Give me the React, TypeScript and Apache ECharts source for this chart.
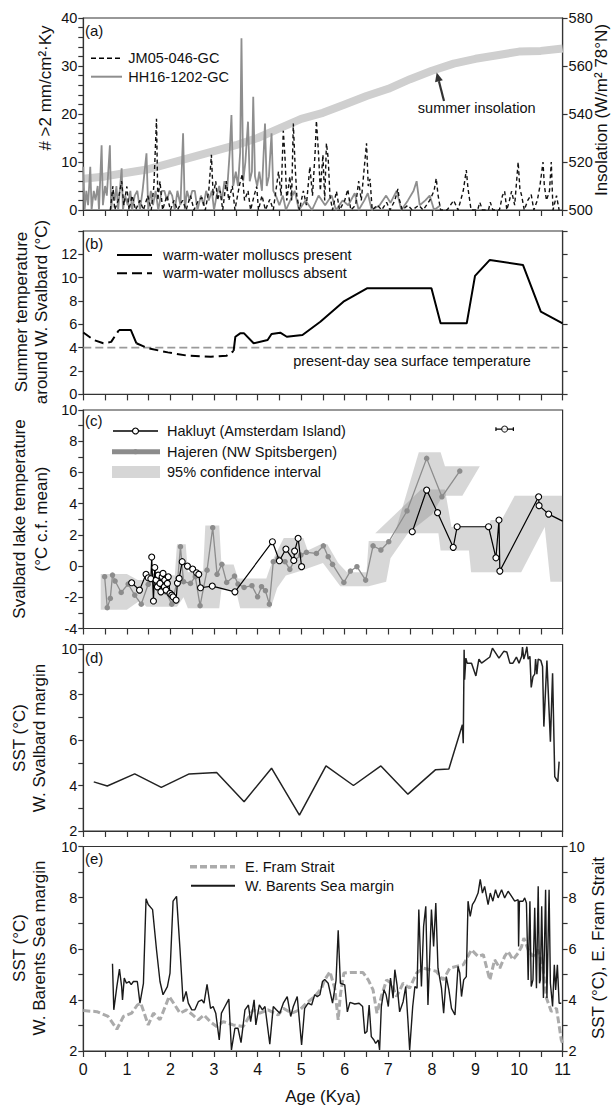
import React, { useEffect, useRef } from 'react';
import * as echarts from 'echarts';

const FONT = "'Liberation Sans', Arial, Helvetica, sans-serif";

// ---------- Panel (a) ----------
const insolationAge = [0, 0.5, 1, 1.5, 2, 2.5, 3, 3.5, 4, 4.5, 5, 5.5, 6, 6.5, 7, 7.5, 8, 8.5, 9, 9.5, 10, 10.5, 11];
const insolationVal = [513, 514, 515.5, 517, 519.5, 522, 524.5, 527, 530, 534, 538, 540.5, 544, 547.5, 550.5, 554.5, 558, 561, 563, 564.5, 566, 566.3, 567.3];

const hh16: number[][] = [
  [0, 9], [0.03, 0], [0.07, 4], [0.11, 1], [0.16, 9], [0.19, 0], [0.24, 4], [0.28, 2], [0.33, 5], [0.36, 0],
  [0.42, 13.5], [0.45, 1], [0.5, 5], [0.54, 3], [0.61, 13.5], [0.64, 0], [0.68, 4], [0.72, 2], [0.76, 5], [0.8, 0],
  [0.88, 8.7], [0.91, 0], [0.96, 3], [1.02, 1], [1.08, 4], [1.12, 0], [1.18, 3], [1.24, 4], [1.3, 0], [1.36, 4],
  [1.45, 11.8], [1.49, 0], [1.55, 4], [1.6, 1], [1.66, 4], [1.72, 0], [1.8, 4], [1.86, 4], [1.92, 2], [1.98, 4],
  [2.04, 3], [2.1, 0], [2.16, 4], [2.23, 1], [2.29, 16], [2.33, 0], [2.38, 4], [2.44, 2], [2.5, 4], [2.56, 4],
  [2.62, 0], [2.7, 3], [2.76, 1], [2.82, 4], [2.88, 2], [2.95, 4], [3.0, 0], [3.06, 3], [3.12, 5], [3.18, 2],
  [3.24, 6], [3.3, 4], [3.36, 12], [3.4, 19.8], [3.44, 5], [3.5, 8], [3.55, 5], [3.6, 12], [3.63, 35.8], [3.67, 6],
  [3.72, 10], [3.78, 18.4], [3.82, 6], [3.87, 8], [3.9, 23.6], [3.94, 7], [3.99, 5], [4.04, 8], [4.1, 4], [4.17, 18],
  [4.21, 5], [4.26, 7], [4.32, 16], [4.36, 4], [4.42, 3], [4.5, 1], [4.58, 3], [4.65, 0], [4.75, 2], [4.85, 4],
  [4.95, 0], [5.1, 2], [5.25, 0], [5.4, 3], [5.55, 1], [5.7, 3], [5.8, 0], [5.95, 2], [6.08, 1], [6.23, 3.5],
  [6.32, 0], [6.45, 2], [6.53, 3.5], [6.62, 0], [6.8, 1], [6.95, 3], [7.05, 1.5], [7.19, 4], [7.3, 0], [7.45, 2],
  [7.58, 4], [7.65, 6], [7.72, 1], [7.85, 2], [7.95, 3], [8.05, 0], [8.2, 1]
];

const jm05: number[][] = [
  [0.62, 0], [0.68, 5], [0.72, 0], [0.8, 2], [0.88, 6], [0.93, 1], [1.0, 4.9], [1.05, 0], [1.12, 3], [1.2, 0],
  [1.3, 2], [1.38, 0], [1.48, 3], [1.56, 0], [1.62, 5], [1.68, 19], [1.71, 2], [1.76, 6], [1.82, 0], [1.92, 3],
  [2.0, 0], [2.08, 2], [2.16, 0], [2.28, 2], [2.36, 0], [2.46, 3], [2.54, 0], [2.64, 2], [2.72, 2.6], [2.8, 0],
  [2.88, 4], [2.94, 11.5], [2.98, 3], [3.04, 6], [3.08, 2], [3.14, 4], [3.2, 0], [3.28, 6], [3.34, 2], [3.42, 5],
  [3.48, 0], [3.54, 3], [3.59, 5.4], [3.65, 7.5], [3.7, 2], [3.78, 4], [3.84, 0], [3.92, 3], [3.98, 4.9], [4.02, 0],
  [4.1, 3], [4.18, 0], [4.28, 2.2], [4.36, 0], [4.48, 8], [4.54, 3], [4.59, 16.5], [4.63, 10.8], [4.67, 2], [4.74, 7],
  [4.78, 2], [4.82, 18], [4.86, 9.4], [4.9, 3], [4.96, 0], [5.05, 4], [5.12, 1], [5.2, 9], [5.26, 3], [5.32, 12],
  [5.35, 18.6], [5.4, 11.5], [5.44, 4], [5.5, 11.5], [5.54, 2], [5.58, 13.9], [5.62, 10.8], [5.66, 3], [5.72, 0], [5.81, 3.9],
  [5.88, 0], [6.0, 2], [6.07, 4.3], [6.14, 0], [6.25, 1], [6.32, 6], [6.38, 2], [6.45, 9], [6.5, 13.9], [6.54, 5],
  [6.58, 6.5], [6.63, 0], [6.75, 1], [6.85, 0], [6.96, 1.6], [7.04, 0], [7.15, 2], [7.22, 4.4], [7.25, 2.3], [7.32, 0],
  [7.45, 1], [7.55, 0], [7.7, 1], [7.8, 0], [7.95, 2], [8.05, 4], [8.1, 6.6], [8.14, 3.2], [8.2, 0], [8.35, 0],
  [8.5, 2], [8.6, 0], [8.72, 4], [8.79, 8.3], [8.83, 4.4], [8.9, 0], [9.05, 0], [9.1, 1.6], [9.16, 0], [9.3, 0],
  [9.34, 1.6], [9.4, 0], [9.55, 0], [9.62, 3], [9.67, 3.9], [9.72, 0], [9.78, 2], [9.83, 3.9], [9.9, 1], [9.98, 10],
  [10.02, 4.4], [10.06, 3], [10.12, 0], [10.2, 2], [10.28, 3.2], [10.34, 0], [10.42, 2], [10.48, 5], [10.55, 10], [10.58, 5.2],
  [10.63, 2], [10.7, 4], [10.74, 10], [10.78, 0], [10.86, 3], [10.92, 0]
];

// ---------- Panel (b) ----------
const bAbsent1: number[][] = [[0, 5.3], [0.24, 4.66], [0.46, 4.38], [0.64, 4.5], [0.82, 5.52]];
const bPresent1: number[][] = [[0.82, 5.52], [1.09, 5.52], [1.22, 4.38]];
const bAbsent2: number[][] = [[1.22, 4.38], [1.49, 3.95], [1.94, 3.6], [2.39, 3.32], [2.93, 3.23], [3.29, 3.32], [3.45, 3.72]];
const bPresent2: number[][] = [
  [3.45, 3.72], [3.49, 4.94], [3.6, 5.23], [3.69, 5.23], [3.91, 4.38], [4.23, 4.66], [4.32, 5.17], [4.52, 5.29],
  [4.67, 4.94], [5.03, 5.09], [5.44, 6.23], [5.97, 7.94], [6.51, 9.09], [7.99, 9.09], [8.2, 6.09], [8.8, 6.09],
  [8.99, 10.15], [9.33, 11.52], [10.09, 11.09], [10.5, 7.09], [11, 6.09]
];
const presentDaySST = 4;

// ---------- Panel (c) ----------
const hakluyt1: number[][] = [
  [1.11, -1.07], [1.29, -1.54], [1.44, -0.53], [1.49, -0.75], [1.55, -0.81], [1.57, 0.58], [1.61, -2.24], [1.64, -0.09],
  [1.67, -0.9], [1.7, -1.33], [1.72, -0.58], [1.76, -1.11], [1.78, -1.65], [1.81, -0.69], [1.83, -0.47], [1.86, -1.33],
  [1.87, -0.9], [1.9, -1.54], [1.93, -1.11], [1.95, -0.69], [1.99, -1.75], [2.03, -1.86], [2.06, -1.97], [2.13, -2.18],
  [2.16, -1.09], [2.2, -0.79], [2.27, 0.28], [2.39, 0.0], [2.51, -0.19], [2.6, -0.43], [2.65, -0.53], [2.69, -1.39],
  [2.96, -1.28], [3.48, -1.65], [4.34, 1.56], [4.5, 0.34], [4.65, 1.09], [4.83, 0.36], [4.85, 0.96], [4.93, 1.78], [5.01, -0.04]
];
const hakluyt2: number[][] = [
  [7.55, 2.2], [7.88, 4.87], [8.13, 3.42], [8.49, 1.2], [8.58, 2.52], [9.3, 2.52], [9.47, 0.53], [9.54, 2.95],
  [9.56, -0.32], [10.45, 4.44], [10.46, 3.87], [10.68, 3.33], [11.0, 2.88]
];
const hajeren: number[][] = [
  [0.49, -0.68], [0.55, -2.67], [0.62, -2.07], [0.67, -0.58], [0.73, -0.96], [0.87, -1.69], [1.03, -1.15], [1.18, -1.86],
  [1.33, -2.44], [1.49, -1.17], [1.66, -0.58], [1.79, -1.22], [1.9, -1.67], [2.03, -2.44], [2.17, -0.79], [2.23, 1.24],
  [2.3, -1.0], [2.46, -1.11], [2.57, -0.68], [2.68, -2.54], [2.84, -0.26], [2.97, 2.46], [3.07, -0.53], [3.18, 0.11],
  [3.29, -1.05], [3.47, -0.64], [3.55, -1.15], [3.69, -1.37], [3.87, -1.26], [4.0, -1.97], [4.09, -1.32], [4.18, -1.58],
  [4.27, -2.44], [4.36, 0.28], [4.47, 0.49], [4.63, 0.28], [4.74, -0.21], [4.85, 0.38], [4.99, 0.7], [5.12, 0.88],
  [5.35, 0.81], [5.51, 1.3], [5.62, 0.6], [5.72, 0.11], [5.98, -1.05], [6.13, -0.32], [6.28, -0.04], [6.48, -0.9],
  [6.65, 1.3], [6.83, 1.03], [7.01, 1.56], [7.43, 3.53], [7.88, 6.9], [8.23, 4.44], [8.64, 6.09]
];
const hajerenCIUpper: number[][] = [
  [0.4, -0.5], [1.0, -0.5], [1.25, -0.9], [1.5, -0.9], [1.6, -0.5], [2.1, -0.6], [2.15, 1.4], [2.35, 1.4], [2.4, -0.4],
  [2.75, -0.3], [2.8, 2.6], [3.12, 2.6], [3.17, 0.1], [3.45, 0.1], [3.55, -0.8], [4.2, -0.8], [4.35, 0.4], [4.6, 1.8],
  [5.05, 1.8], [5.15, 1.0], [5.45, 1.4], [5.6, 1.4], [5.85, 0.2], [6.05, -0.4], [6.5, -0.4], [6.55, 1.6], [7.05, 1.6],
  [7.15, 2.1], [7.7, 7.3], [8.2, 7.3], [8.3, 6.4], [9.1, 6.4]
];
const hajerenCILower: number[][] = [
  [0.4, -2.8], [1.0, -2.8], [1.3, -2.2], [1.45, -2.6], [2.15, -2.6], [2.3, -2.0], [2.4, -2.7], [3.12, -2.7], [3.17, -1.5],
  [3.5, -1.5], [3.6, -2.7], [4.3, -2.7], [4.45, -1.4], [4.65, -0.6], [5.0, -0.3], [5.5, 0.2], [5.9, -1.3], [6.55, -1.3],
  [6.95, -1.0], [7.05, 0.5], [7.45, 2.1], [8.0, 3.3], [8.25, 4.5], [8.7, 4.5], [9.1, 6.4]
];
const hakluytCIUpper: number[][] = [
  [6.7, 2.1], [7.75, 4.9], [8.3, 4.9], [8.45, 2.5], [9.3, 2.5], [9.35, 2.95], [9.6, 2.95], [9.9, 4.5], [11, 4.5]
];
const hakluytCILower: number[][] = [
  [6.7, 2.1], [8.15, 2.1], [8.2, 1.0], [8.85, 1.0], [8.9, -0.4], [10.05, -0.4], [10.59, 2.5], [10.72, -1.0], [11, -1.0]
];
const errAge = 9.67;
const errVal = 8.78;
const errHalf = 0.2;

// ---------- Panel (d) ----------
const wSvalbard: number[][] = [
  [0.24, 4.16], [0.55, 3.98], [1.18, 4.51], [1.79, 3.92], [2.43, 4.51], [3.06, 4.57], [3.69, 3.29], [4.32, 4.76],
  [4.96, 2.7], [5.57, 4.86], [6.2, 4.0], [6.83, 4.86], [7.45, 3.62], [8.08, 4.69], [8.39, 4.73], [8.7, 6.67],
  [8.72, 5.86], [8.74, 9.97], [8.75, 8.65], [8.78, 9.6], [8.81, 9.38], [8.91, 9.38], [9.01, 8.82], [9.08, 9.56],
  [9.14, 9.38], [9.33, 9.65], [9.39, 10.04], [9.54, 9.6], [9.65, 9.9], [9.72, 9.87], [9.79, 9.38], [9.86, 9.38],
  [9.94, 9.65], [10.0, 9.38], [10.06, 9.68], [10.08, 10.09], [10.11, 9.56], [10.15, 9.82], [10.18, 10.1], [10.21, 9.56],
  [10.25, 9.68], [10.28, 8.31], [10.32, 8.79], [10.36, 8.9], [10.38, 9.56], [10.41, 8.9], [10.44, 9.56], [10.5, 9.5],
  [10.54, 9.23], [10.57, 6.59], [10.64, 9.5], [10.72, 5.93], [10.77, 8.94], [10.82, 4.39], [10.89, 4.17], [10.92, 5.05]
];

// ---------- Panel (e) ----------
const wBarents: number[][] = [
  [0.67, 5.41], [0.7, 3.61], [0.77, 4.52], [0.83, 5.2], [0.88, 4.52], [0.9, 4.0], [0.94, 4.85], [0.99, 4.65], [1.05, 4.72],
  [1.1, 4.6], [1.15, 4.72], [1.24, 4.72], [1.3, 3.87], [1.38, 4.65], [1.44, 7.96], [1.49, 7.73], [1.59, 7.53], [1.68, 5.96],
  [1.76, 4.72], [1.83, 4.2], [1.93, 4.52], [1.99, 5.05], [2.06, 7.86], [2.14, 8.05], [2.22, 5.96], [2.29, 3.93], [2.36, 4.33],
  [2.41, 3.87], [2.49, 3.61], [2.56, 3.61], [2.64, 3.93], [2.72, 4.0], [2.77, 3.87], [2.84, 4.61], [2.92, 3.67], [2.98, 3.74],
  [3.04, 3.48], [3.12, 2.43], [3.17, 3.48], [3.25, 3.74], [3.34, 4.03], [3.4, 2.04], [3.48, 2.89], [3.55, 2.89], [3.62, 2.33],
  [3.71, 3.61], [3.79, 3.8], [3.84, 3.15], [3.92, 4.0], [3.96, 3.02], [4.04, 3.8], [4.11, 3.61], [4.17, 3.74], [4.28, 2.27],
  [4.36, 3.74], [4.43, 3.61], [4.51, 3.48], [4.59, 3.87], [4.68, 4.13], [4.76, 3.35], [4.82, 3.74], [4.91, 4.13], [5.01, 2.24],
  [5.08, 3.67], [5.16, 3.87], [5.24, 3.8], [5.31, 4.2], [5.37, 4.13], [5.43, 4.2], [5.49, 4.72], [5.54, 4.8], [5.62, 4.65],
  [5.72, 3.87], [5.8, 4.75], [5.85, 6.72], [5.9, 4.65], [6.0, 4.59], [6.06, 3.53], [6.12, 3.9], [6.23, 3.84], [6.33, 3.87],
  [6.41, 3.74], [6.46, 2.69], [6.51, 2.76], [6.56, 3.8], [6.61, 2.56], [6.67, 2.43], [6.71, 2.3], [6.77, 2.43], [6.8, 2.04],
  [6.84, 3.74], [6.9, 4.39], [6.95, 4.2], [7.0, 3.74], [7.05, 4.85], [7.11, 4.07], [7.15, 5.18], [7.2, 4.59], [7.26, 3.53],
  [7.34, 3.93], [7.4, 4.52], [7.45, 3.2], [7.49, 2.04], [7.56, 3.74], [7.61, 4.52], [7.66, 4.46], [7.7, 7.53], [7.76, 4.52],
  [7.81, 6.88], [7.86, 7.66], [7.91, 3.8], [7.99, 7.53], [8.04, 6.09], [8.09, 7.79], [8.14, 5.24], [8.22, 4.46], [8.27, 3.48],
  [8.33, 4.91], [8.39, 4.39], [8.45, 3.67], [8.53, 3.41], [8.6, 5.31], [8.64, 5.05], [8.68, 4.13], [8.73, 4.78], [8.79, 4.91],
  [8.83, 7.86], [8.88, 7.27], [8.93, 7.73], [8.98, 7.86], [9.06, 8.18], [9.11, 8.71], [9.16, 8.18], [9.21, 8.44], [9.29, 7.73],
  [9.34, 8.18], [9.4, 7.86], [9.46, 8.31], [9.52, 7.99], [9.6, 8.31], [9.67, 7.99], [9.75, 8.25], [9.83, 8.05], [9.9, 7.86],
  [9.98, 7.92], [9.99, 6.09], [10.01, 7.86], [10.09, 7.86], [10.13, 7.99], [10.17, 7.79], [10.21, 4.78], [10.25, 7.86],
  [10.28, 4.52], [10.32, 4.78], [10.36, 7.6], [10.4, 4.46], [10.44, 8.44], [10.47, 4.65], [10.49, 4.78], [10.52, 7.66],
  [10.56, 4.07], [10.61, 8.31], [10.64, 4.07], [10.69, 8.31], [10.72, 4.65], [10.77, 3.74], [10.81, 5.37], [10.84, 4.39],
  [10.88, 5.37], [10.92, 3.87], [10.97, 3.87]
];
const eFram: number[][] = [
  [0.0, 3.58], [0.31, 3.54], [0.57, 3.35], [0.77, 2.85], [0.92, 3.35], [1.11, 3.48], [1.24, 3.8], [1.32, 3.87], [1.49, 3.02],
  [1.61, 3.48], [1.76, 3.22], [1.97, 4.13], [2.1, 3.8], [2.22, 3.48], [2.37, 3.61], [2.51, 3.41], [2.64, 3.22], [2.77, 3.41],
  [2.91, 3.15], [3.06, 2.96], [3.21, 3.15], [3.44, 3.02], [3.67, 2.96], [3.9, 3.61], [4.05, 3.48], [4.24, 3.61], [4.47, 3.41],
  [4.59, 3.67], [4.78, 3.48], [4.97, 3.61], [5.12, 3.87], [5.31, 4.13], [5.47, 4.46], [5.54, 4.78], [5.66, 5.1], [5.77, 4.46],
  [5.85, 3.22], [5.9, 4.2], [5.98, 5.05], [6.12, 5.07], [6.42, 5.07], [6.54, 4.78], [6.65, 4.39], [6.74, 3.48], [6.84, 4.13],
  [6.96, 4.78], [7.07, 4.65], [7.19, 4.13], [7.34, 4.65], [7.49, 4.46], [7.65, 5.05], [7.8, 5.24], [7.95, 5.18], [8.1, 5.12],
  [8.26, 4.78], [8.41, 5.24], [8.56, 5.31], [8.72, 5.37], [8.91, 5.96], [9.06, 5.7], [9.18, 5.77], [9.33, 4.78], [9.44, 5.57],
  [9.56, 5.24], [9.67, 5.7], [9.75, 5.9], [9.86, 5.57], [9.98, 5.83], [10.06, 6.09], [10.11, 6.42], [10.21, 5.96], [10.32, 5.7],
  [10.43, 5.96], [10.54, 5.37], [10.63, 4.07], [10.74, 3.55], [10.86, 3.67], [10.97, 2.43], [11.0, 2.3]
];

// ---------- layout ----------
const GL = 83.3;
const GR = 612 - 562.6;
const gridTops = [18, 231, 410, 644.5, 846.5];
const gridHeights = [192, 163.4, 218.5, 186.5, 204.5];

const AX = '#333';
const TXT = '#111';

function xAxisFor(i: number) {
  const last = i === 4;
  return {
    type: 'value', gridIndex: i, min: 0, max: 11, interval: 0.5,
    axisLine: { show: true, onZero: false, lineStyle: { color: AX, width: 1.2 } },
    axisTick: { show: true, inside: false, length: 6, lineStyle: { color: AX, width: 1.2 } },
    axisLabel: {
      show: last, margin: 10, fontSize: 16, color: TXT, fontFamily: FONT,
      formatter: (v: number) => (Number.isInteger(v) ? String(v) : '')
    },
    splitLine: { show: false },
    name: last ? 'Age (Kya)' : '',
    nameLocation: 'middle', nameGap: 37,
    nameTextStyle: { fontSize: 17, color: TXT, fontFamily: FONT }
  };
}

function yAxisFor(grid: number, min: number, max: number, interval: number, pos: string, labelFn: ((v: number) => string) | null) {
  return {
    type: 'value', gridIndex: grid, min, max, interval, position: pos,
    axisLine: { show: true, onZero: false, lineStyle: { color: AX, width: 1.2 } },
    axisTick: { show: true, inside: false, length: 5, lineStyle: { color: AX, width: 1.2 } },
    axisLabel: {
      show: !!labelFn, margin: 6, fontSize: 14.5, color: TXT, fontFamily: FONT,
      formatter: labelFn ? labelFn : () => ''
    },
    splitLine: { show: false }
  };
}

const even = (v: number) => (Math.abs(v % 2) < 1e-9 ? String(v) : '');

function polygonSeries(upper: number[][], lower: number[][], xi: number, yi: number, fill: string) {
  const poly = upper.concat(lower.slice().reverse());
  return {
    type: 'custom', xAxisIndex: xi, yAxisIndex: yi, silent: true, z: 1,
    data: [[poly[0][0], poly[0][1]]],
    renderItem: (_p: any, api: any) => ({
      type: 'polygon',
      shape: { points: poly.map((pt) => api.coord(pt)) },
      style: { fill }
    })
  };
}

function lineS(data: any[], xi: number, yi: number, color: string, width: number, extra: any = {}) {
  return {
    type: 'line', xAxisIndex: xi, yAxisIndex: yi, data, symbol: 'none', silent: true,
    lineStyle: { color, width, ...(extra.lineStyle || {}) },
    ...extra.rest
  };
}

function T(x: number, y: number, text: string, size = 14.5, align = 'left', rot = 0) {
  return {
    type: 'text', x, y, rotation: rot, silent: true, z: 100,
    style: { text, fill: TXT, fontSize: size, fontFamily: FONT, align, verticalAlign: 'middle' }
  };
}
function Ln(x1: number, y1: number, x2: number, y2: number, stroke: string, lw: number, dash?: number[]) {
  return {
    type: 'line', silent: true, z: 100,
    shape: { x1, y1, x2, y2 },
    style: { stroke, lineWidth: lw, lineDash: dash || null }
  };
}

const R90 = Math.PI / 2;

export default function App() {
  const ref = useRef<HTMLDivElement>(null);
  useEffect(() => {
    const chart = echarts.init(ref.current!, null, { renderer: 'svg' });
    const insolation = insolationAge.map((a, i) => [a, insolationVal[i]]);
    const hak2 = hakluyt2.map((p, i) => (i === hakluyt2.length - 1 ? { value: p, symbol: 'none' } : p));

    const option: any = {
      animation: false,
      backgroundColor: '#fff',
      textStyle: { fontFamily: FONT },
      grid: gridTops.map((t, i) => ({
        left: GL, right: GR, top: t, height: gridHeights[i],
        show: true, borderColor: AX, borderWidth: 1.2, backgroundColor: 'transparent'
      })),
      xAxis: [0, 1, 2, 3, 4].map(xAxisFor),
      yAxis: [
        yAxisFor(0, 0, 40, 2, 'left', (v) => (v % 10 === 0 ? String(v) : '')),
        yAxisFor(0, 500, 580, 20, 'right', (v) => String(v)),
        yAxisFor(1, 0, 14, 2, 'left', (v) => (v <= 12 ? String(v) : '')),
        yAxisFor(1, 0, 14, 2, 'right', null),
        yAxisFor(2, -4, 10, 1, 'left', even),
        yAxisFor(3, 2, 10.2, 1, 'left', (v) => (Number.isInteger(v) && v % 2 === 0 ? String(v) : '')),
        yAxisFor(4, 2, 10, 1, 'left', even),
        yAxisFor(4, 2, 10, 1, 'right', even)
      ],
      series: [
        // (a)
        lineS(insolation, 0, 1, '#cfcfcf', 8, { rest: { z: 1 } }),
        lineS(hh16, 0, 0, '#8e8e8e', 1.8, { rest: { z: 2 } }),
        lineS(jm05, 0, 0, '#111', 1.4, { lineStyle: { type: [4, 3] }, rest: { z: 3 } }),
        // (b)
        lineS([[0, presentDaySST], [11, presentDaySST]], 1, 2, '#9a9a9a', 1.8, { lineStyle: { type: [8, 4] }, rest: { z: 2 } }),
        lineS(bAbsent1, 1, 2, '#000', 2, { lineStyle: { type: [9, 5] }, rest: { z: 3 } }),
        lineS(bAbsent2, 1, 2, '#000', 2, { lineStyle: { type: [9, 5] }, rest: { z: 3 } }),
        lineS(bPresent1, 1, 2, '#000', 2, { rest: { z: 3 } }),
        lineS(bPresent2, 1, 2, '#000', 2, { rest: { z: 3 } }),
        // (c)
        polygonSeries(hajerenCIUpper, hajerenCILower, 2, 4, 'rgba(110,110,110,0.28)'),
        polygonSeries(hakluytCIUpper, hakluytCILower, 2, 4, 'rgba(110,110,110,0.28)'),
        {
          type: 'line', xAxisIndex: 2, yAxisIndex: 4, data: hajeren, silent: true, z: 3,
          symbol: 'circle', symbolSize: 5.5, showAllSymbol: true,
          lineStyle: { color: '#8c8c8c', width: 1.3 }, itemStyle: { color: '#8c8c8c' }
        },
        {
          type: 'line', xAxisIndex: 2, yAxisIndex: 4, data: hakluyt1, silent: true, z: 4,
          symbol: 'circle', symbolSize: 6, showAllSymbol: true,
          lineStyle: { color: '#000', width: 1.2 }, itemStyle: { color: '#fff', borderColor: '#000', borderWidth: 1.1 }
        },
        {
          type: 'line', xAxisIndex: 2, yAxisIndex: 4, data: hak2, silent: true, z: 4,
          symbol: 'circle', symbolSize: 6, showAllSymbol: true,
          lineStyle: { color: '#000', width: 1.2 }, itemStyle: { color: '#fff', borderColor: '#000', borderWidth: 1.1 }
        },
        lineS([[errAge - errHalf, errVal], [errAge + errHalf, errVal]], 2, 4, '#000', 1.2, { rest: { z: 4 } }),
        lineS([[errAge - errHalf, errVal - 0.12], [errAge - errHalf, errVal + 0.12]], 2, 4, '#000', 1.2, { rest: { z: 4 } }),
        lineS([[errAge + errHalf, errVal - 0.12], [errAge + errHalf, errVal + 0.12]], 2, 4, '#000', 1.2, { rest: { z: 4 } }),
        {
          type: 'scatter', xAxisIndex: 2, yAxisIndex: 4, data: [[errAge, errVal]], silent: true, z: 5,
          symbol: 'circle', symbolSize: 6, itemStyle: { color: '#fff', borderColor: '#000', borderWidth: 1.1 }
        },
        // (d)
        lineS(wSvalbard, 3, 5, '#222', 1.5, { rest: { z: 3 } }),
        // (e)
        lineS(eFram, 4, 7, '#ababab', 3, { lineStyle: { type: [7, 3] }, rest: { z: 2 } }),
        lineS(wBarents, 4, 6, '#1a1a1a', 1.4, { rest: { z: 3 } })
      ],
      graphic: [
        // panel labels
        T(85, 30, '(a)', 15), T(85, 243, '(b)', 15), T(85, 420, '(c)', 15), T(85, 657, '(d)', 15), T(85, 858, '(e)', 15),
        // legend a
        Ln(91, 58.3, 122, 58.3, '#000', 1.4, [5, 3]), T(128.3, 58.3, 'JM05-046-GC'),
        Ln(91, 76.7, 122, 76.7, '#8e8e8e', 2), T(128.3, 76.7, 'HH16-1202-GC'),
        // insolation annotation
        T(476.7, 107.7, 'summer insolation', 14.5, 'center'),
        Ln(444, 101, 438.9, 81.2, '#333', 2.2),
        {
          type: 'polygon', silent: true, z: 100,
          shape: { points: [[436.7, 72.5], [442.8, 80.2], [435.06, 82.2]] },
          style: { fill: '#333' }
        },
        // legend b
        Ln(117, 255, 152, 255, '#000', 2), T(163, 255, 'warm-water molluscs present'),
        Ln(117, 273.3, 152, 273.3, '#000', 2, [10, 5]), T(163, 273.3, 'warm-water molluscs absent'),
        T(412, 361, 'present-day sea surface temperature', 14.5, 'center'),
        // legend c
        Ln(113, 431, 158, 431, '#000', 1.3),
        { type: 'circle', silent: true, z: 101, shape: { cx: 135.5, cy: 431, r: 3 }, style: { fill: '#fff', stroke: '#000', lineWidth: 1.1 } },
        T(167, 431, 'Hakluyt (Amsterdam Island)'),
        Ln(112, 451.7, 160, 451.7, '#8c8c8c', 5),
        { type: 'circle', silent: true, z: 101, shape: { cx: 135.5, cy: 451.7, r: 2.6 }, style: { fill: '#8c8c8c' } },
        T(167, 452, 'Hajeren (NW Spitsbergen)'),
        { type: 'rect', silent: true, z: 100, shape: { x: 112, y: 466, width: 48, height: 12 }, style: { fill: '#d6d6d6' } },
        T(167, 472, '95% confidence interval'),
        // legend e
        Ln(190, 866.7, 235, 866.7, '#ababab', 3.5, [7, 3]), T(245, 866.7, 'E. Fram Strait'),
        Ln(191, 885.7, 235, 885.7, '#1a1a1a', 2), T(245, 885.7, 'W. Barents Sea margin'),
        // axis names
        T(45, 88, '# >2 mm/cm²·Ky', 17, 'center', R90),
        T(601.5, 110, 'Insolation (W/m² 78°N)', 17, 'center', R90),
        T(21.5, 312, 'Summer temperature', 17, 'center', R90),
        T(41, 312, 'around W. Svalbard (°C)', 17, 'center', R90),
        T(19.5, 519, 'Svalbard lake temperature', 17, 'center', R90),
        T(41, 519, '(°C c.f. mean)', 17, 'center', R90),
        T(19.5, 738, 'SST (°C)', 17, 'center', R90),
        T(39, 738, 'W. Svalbard margin', 17, 'center', R90),
        T(19.5, 948, 'SST (°C)', 17, 'center', R90),
        T(39, 948, 'W. Barents Sea margin', 17, 'center', R90),
        T(598, 948, 'SST (°C), E. Fram Strait', 17, 'center', R90)
      ]
    };
    chart.setOption(option);
    return () => chart.dispose();
  }, []);
  return <div ref={ref} style={{ position: 'absolute', left: 0, top: 0, width: 612, height: 1107, background: '#fff' }} />;
}
